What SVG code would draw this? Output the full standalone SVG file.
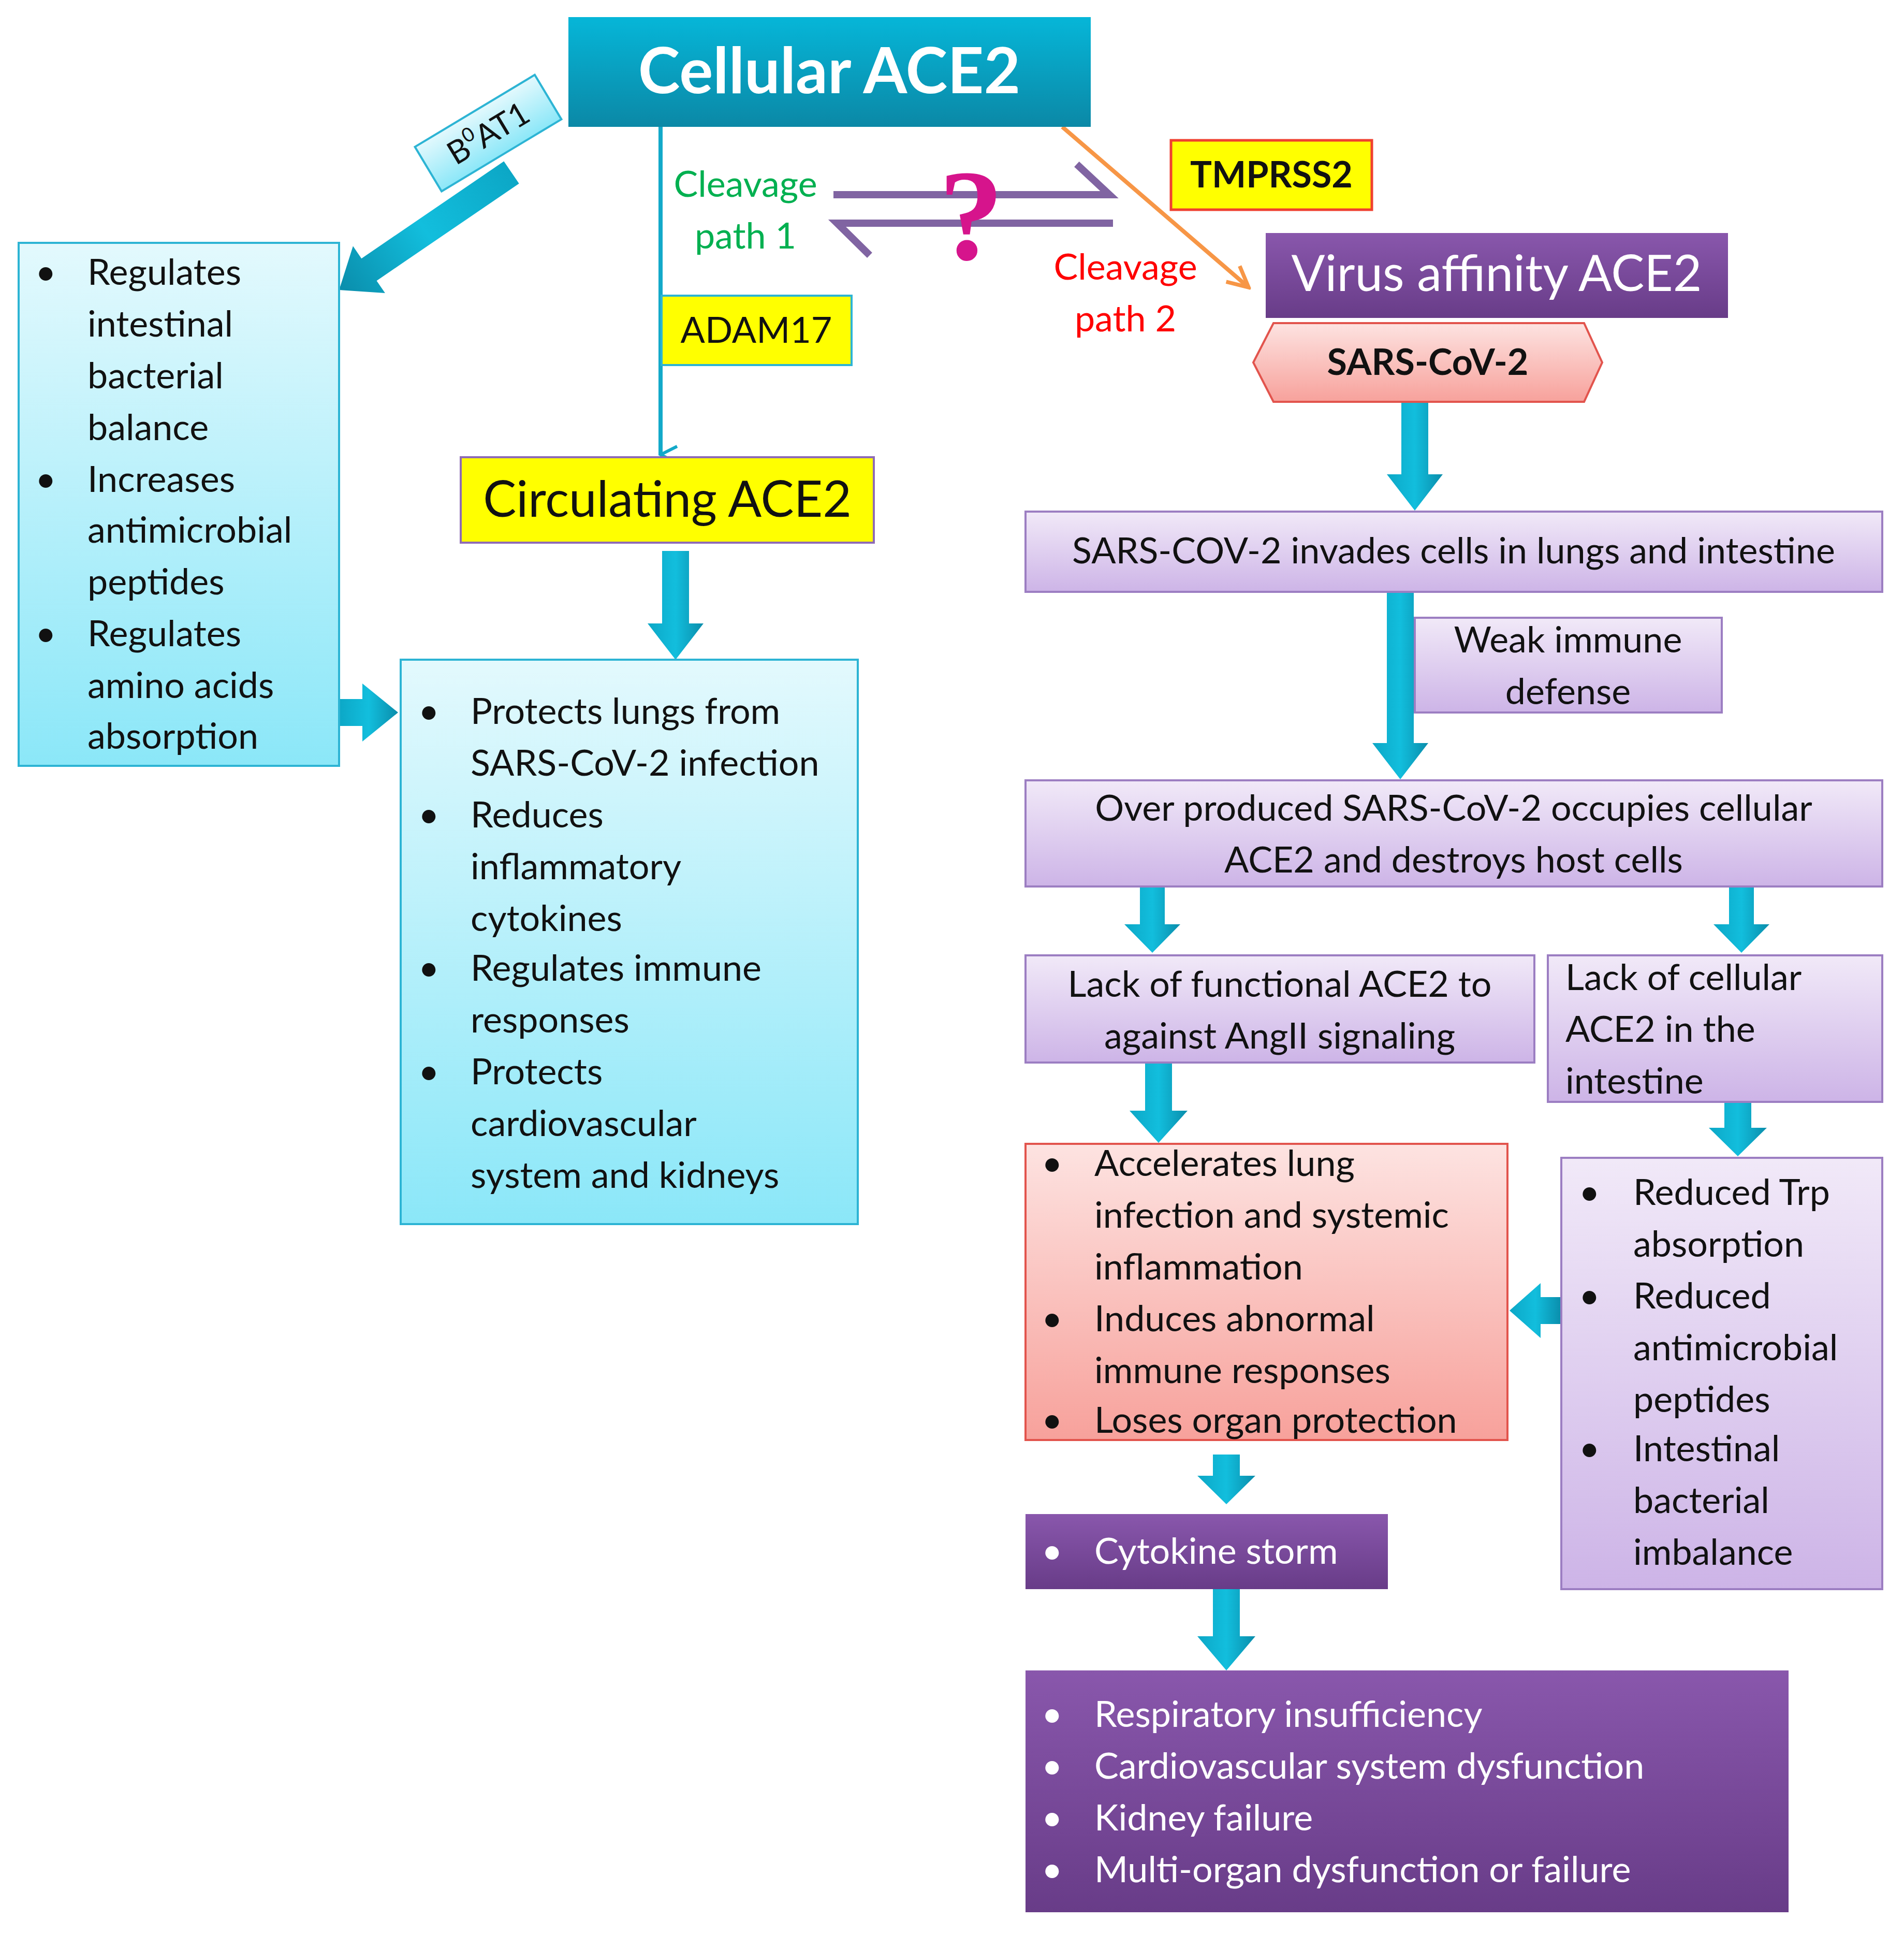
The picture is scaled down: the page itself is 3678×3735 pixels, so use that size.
<svg xmlns="http://www.w3.org/2000/svg" width="3678" height="3735" viewBox="0 0 3678 3735">
<defs>
<linearGradient id="gTeal" x1="0" y1="0" x2="0" y2="1"><stop offset="0" stop-color="#06B6D8"/><stop offset="1" stop-color="#0B88A6"/></linearGradient>
<linearGradient id="gArr" x1="0" y1="0" x2="1" y2="0"><stop offset="0" stop-color="#0CA7C6"/><stop offset="0.5" stop-color="#12BEDD"/><stop offset="1" stop-color="#0A8DAB"/></linearGradient>
<linearGradient id="gCyan" x1="0" y1="0" x2="0" y2="1"><stop offset="0" stop-color="#E3F9FD"/><stop offset="1" stop-color="#8BE7F8"/></linearGradient>
<linearGradient id="gLav" x1="0" y1="0" x2="0" y2="1"><stop offset="0" stop-color="#F1E9F8"/><stop offset="1" stop-color="#CDB4E7"/></linearGradient>
<linearGradient id="gRed" x1="0" y1="0" x2="0" y2="1"><stop offset="0" stop-color="#FDE3E1"/><stop offset="1" stop-color="#F7A19B"/></linearGradient>
<linearGradient id="gPur" x1="0" y1="0" x2="0" y2="1"><stop offset="0" stop-color="#8957AC"/><stop offset="1" stop-color="#683C88"/></linearGradient>
<linearGradient id="gTag" x1="0" y1="0" x2="0" y2="1"><stop offset="0" stop-color="#E3F9FD"/><stop offset="1" stop-color="#8BE7F8"/></linearGradient>
<marker id="mOpen" viewBox="0 0 20 20" refX="10" refY="18" markerWidth="40" markerHeight="40" markerUnits="userSpaceOnUse" orient="auto-start-reverse"><path d="M2,2 L10,18 L18,2" fill="none" stroke="#13A9C9" stroke-width="3"/></marker>
<marker id="mOr" viewBox="0 0 20 20" refX="18" refY="10" markerWidth="50" markerHeight="50" markerUnits="userSpaceOnUse" orient="auto"><path d="M2,2 L18,10 L2,18" fill="none" stroke="#F79646" stroke-width="3"/></marker>
</defs>
<style>
text{font-family:Lato,"Open Sans","Liberation Sans",sans-serif;}
.b{font-size:70px;fill:#111;}
.bw{font-size:70px;fill:#fff;}
.cy{fill:url(#gCyan);stroke:#2DB4D4;stroke-width:4;}
.lav{fill:url(#gLav);stroke:#9C7EC2;stroke-width:4;}
.red{fill:url(#gRed);stroke:#E2544D;stroke-width:4;}
.pur{fill:url(#gPur);}
.yel{fill:#FFFF00;}
.arr{fill:url(#gArr);}
</style>

<g id="connectors">
  <line x1="1276" y1="245" x2="1276" y2="878" stroke="#13A9C9" stroke-width="8" marker-end="url(#mOpen)"/>
  <line x1="2052" y1="245" x2="2412" y2="555" stroke="#F79646" stroke-width="8" marker-end="url(#mOr)"/>
  <g stroke="#8064A2" stroke-width="14" fill="none" stroke-linecap="square">
    <path d="M1617,376 L2143,376 L2085,322"/>
    <path d="M2143,431 L1617,431 L1675,488"/>
  </g>
  <text x="1876" y="500" font-size="250" font-weight="bold" fill="#D6148C" text-anchor="middle" style="font-family:'Liberation Serif',serif">?</text>
  <polygon class="arr" transform="translate(988,333) rotate(145.7)" points="0,-26 333,-26 333,-55 403,0 333,55 333,26 0,26"/>
  <polygon class="arr" points="655,1350 700,1350 700,1320 769,1376 700,1432 700,1402 655,1402"/>
  <polygon class="arr" points="1279,1064 1331,1064 1331,1204 1359,1204 1305,1274 1251,1204 1279,1204"/>
  <polygon class="arr" points="2707,776 2759,776 2759,916 2787,916 2733,986 2679,916 2707,916"/>
  <polygon class="arr" points="2679,1143 2731,1143 2731,1435 2759,1435 2705,1505 2651,1435 2679,1435"/>
  <polygon class="arr" points="2202,1712 2250,1712 2250,1785 2280,1785 2226,1840 2172,1785 2202,1785"/>
  <polygon class="arr" points="3340,1712 3388,1712 3388,1785 3418,1785 3364,1840 3310,1785 3340,1785"/>
  <polygon class="arr" points="2212,2052 2264,2052 2264,2145 2294,2145 2238,2207 2182,2145 2212,2145"/>
  <polygon class="arr" points="3331,2128 3383,2128 3383,2178 3413,2178 3357,2233 3301,2178 3331,2178"/>
  <polygon class="arr" points="3016,2505 2976,2505 2976,2478 2916,2531 2976,2584 2976,2557 3016,2557"/>
  <polygon class="arr" points="2343,2809 2395,2809 2395,2850 2425,2850 2369,2905 2313,2850 2343,2850"/>
  <polygon class="arr" points="2343,3069 2395,3069 2395,3160 2425,3160 2369,3226 2313,3160 2343,3160"/>
</g>

<g id="cellular">
  <rect x="1098" y="33" width="1009" height="212" fill="url(#gTeal)"/>
  <text x="1602" y="180" font-size="122" font-weight="bold" fill="#fff" text-anchor="middle">Cellular ACE2</text>
</g>
<g id="b0at1" transform="translate(943,257) rotate(-31)">
  <rect x="-135" y="-50" width="270" height="100" fill="url(#gTag)" stroke="#2DB4D4" stroke-width="4"/>
  <text x="0" y="22" font-size="62" fill="#111" text-anchor="middle">B<tspan font-size="38" dy="-26">0</tspan><tspan dy="26">AT1</tspan></text>
</g>
<g id="cleave1">
  <text x="1440" y="380" font-size="70" fill="#00B050" text-anchor="middle">Cleavage</text>
  <text x="1440" y="480" font-size="70" fill="#00B050" text-anchor="middle">path 1</text>
</g>
<g id="cleave2">
  <text x="2174" y="540" font-size="70" fill="#FF0000" text-anchor="middle">Cleavage</text>
  <text x="2174" y="640" font-size="70" fill="#FF0000" text-anchor="middle">path 2</text>
</g>
<g id="tmprss2">
  <rect x="2262" y="271" width="388" height="134" class="yel" stroke="#F04030" stroke-width="5"/>
  <text x="2456" y="362" font-size="70" font-weight="bold" fill="#111" text-anchor="middle">TMPRSS2</text>
</g>
<g id="adam17">
  <rect x="1278" y="571" width="367" height="134" class="yel" stroke="#2DB4D4" stroke-width="4"/>
  <text x="1461" y="662" class="b" text-anchor="middle">ADAM17</text>
</g>
<g id="left">
  <rect x="36" y="469" width="619" height="1010" class="cy"/>
  <g class="b">
    <text x="68" y="550">•</text><text x="169" y="550">Regulates</text>
    <text x="169" y="650">intestinal</text>
    <text x="169" y="750">bacterial</text>
    <text x="169" y="850">balance</text>
    <text x="68" y="950">•</text><text x="169" y="950">Increases</text>
    <text x="169" y="1048">antimicrobial</text>
    <text x="169" y="1148">peptides</text>
    <text x="68" y="1248">•</text><text x="169" y="1248">Regulates</text>
    <text x="169" y="1348">amino acids</text>
    <text x="169" y="1446">absorption</text>
  </g>
</g>
<g id="circulating">
  <rect x="890" y="883" width="798" height="165" class="yel" stroke="#8E6BB5" stroke-width="4"/>
  <text x="1289" y="998" font-size="96" fill="#111" text-anchor="middle">Circulating ACE2</text>
</g>
<g id="protects">
  <rect x="774" y="1274" width="883" height="1090" class="cy"/>
  <g class="b">
    <text x="808" y="1398">•</text><text x="909" y="1398">Protects lungs from</text>
    <text x="909" y="1498">SARS-CoV-2 infection</text>
    <text x="808" y="1598">•</text><text x="909" y="1598">Reduces</text>
    <text x="909" y="1698">inflammatory</text>
    <text x="909" y="1798">cytokines</text>
    <text x="808" y="1894">•</text><text x="909" y="1894">Regulates immune</text>
    <text x="909" y="1994">responses</text>
    <text x="808" y="2094">•</text><text x="909" y="2094">Protects</text>
    <text x="909" y="2194">cardiovascular</text>
    <text x="909" y="2294">system and kidneys</text>
  </g>
</g>
<g id="virus">
  <rect x="2445" y="450" width="893" height="164" class="pur"/>
  <text x="2891" y="562" font-size="96" fill="#fff" text-anchor="middle">Virus affinity ACE2</text>
</g>
<g id="sars">
  <polygon points="2460,624 3060,624 3095,700 3060,776 2460,776 2421,700" fill="url(#gRed)" stroke="#E2544D" stroke-width="4"/>
  <text x="2758" y="724" font-size="70" font-weight="bold" fill="#111" text-anchor="middle">SARS-CoV-2</text>
</g>
<g id="invades">
  <rect x="1981" y="988" width="1655" height="155" class="lav"/>
  <text x="2808" y="1088" class="b" text-anchor="middle">SARS-COV-2 invades cells in lungs and intestine</text>
</g>
<g id="weak">
  <rect x="2733" y="1193" width="593" height="183" class="lav"/>
  <text x="3029" y="1260" class="b" text-anchor="middle">Weak immune</text>
  <text x="3029" y="1360" class="b" text-anchor="middle">defense</text>
</g>
<g id="overproduced">
  <rect x="1981" y="1507" width="1655" height="205" class="lav"/>
  <text x="2808" y="1585" class="b" text-anchor="middle">Over produced SARS-CoV-2 occupies cellular</text>
  <text x="2808" y="1685" class="b" text-anchor="middle">ACE2 and destroys host cells</text>
</g>
<g id="lackfunc">
  <rect x="1981" y="1845" width="983" height="207" class="lav"/>
  <text x="2472" y="1925" class="b" text-anchor="middle">Lack of functional ACE2 to</text>
  <text x="2472" y="2025" class="b" text-anchor="middle">against AngII signaling</text>
</g>
<g id="lackcell">
  <rect x="2990" y="1845" width="646" height="283" class="lav"/>
  <text x="3024" y="1912" class="b">Lack of cellular</text>
  <text x="3024" y="2012" class="b">ACE2 in the</text>
  <text x="3024" y="2112" class="b">intestine</text>
</g>
<g id="accelerates">
  <rect x="1981" y="2209" width="931" height="572" class="red"/>
  <g class="b">
    <text x="2012" y="2271">•</text><text x="2114" y="2271">Accelerates lung</text>
    <text x="2114" y="2371">infection and systemic</text>
    <text x="2114" y="2471">inflammation</text>
    <text x="2012" y="2571">•</text><text x="2114" y="2571">Induces abnormal</text>
    <text x="2114" y="2671">immune responses</text>
    <text x="2012" y="2767">•</text><text x="2114" y="2767">Loses organ protection</text>
  </g>
</g>
<g id="reduced">
  <rect x="3016" y="2236" width="620" height="833" class="lav"/>
  <g class="b">
    <text x="3050" y="2327">•</text><text x="3155" y="2327">Reduced Trp</text>
    <text x="3155" y="2427">absorption</text>
    <text x="3050" y="2527">•</text><text x="3155" y="2527">Reduced</text>
    <text x="3155" y="2627">antimicrobial</text>
    <text x="3155" y="2727">peptides</text>
    <text x="3050" y="2822">•</text><text x="3155" y="2822">Intestinal</text>
    <text x="3155" y="2922">bacterial</text>
    <text x="3155" y="3022">imbalance</text>
  </g>
</g>
<g id="cytokine">
  <rect x="1981" y="2924" width="700" height="145" class="pur"/>
  <text x="2012" y="3020" class="bw">•</text><text x="2114" y="3020" class="bw">Cytokine storm</text>
</g>
<g id="outcomes">
  <rect x="1981" y="3226" width="1474" height="467" class="pur"/>
  <g class="bw">
    <text x="2012" y="3335">•</text><text x="2114" y="3335">Respiratory insufficiency</text>
    <text x="2012" y="3435">•</text><text x="2114" y="3435">Cardiovascular system dysfunction</text>
    <text x="2012" y="3535">•</text><text x="2114" y="3535">Kidney failure</text>
    <text x="2012" y="3635">•</text><text x="2114" y="3635">Multi-organ dysfunction or failure</text>
  </g>
</g>
</svg>
